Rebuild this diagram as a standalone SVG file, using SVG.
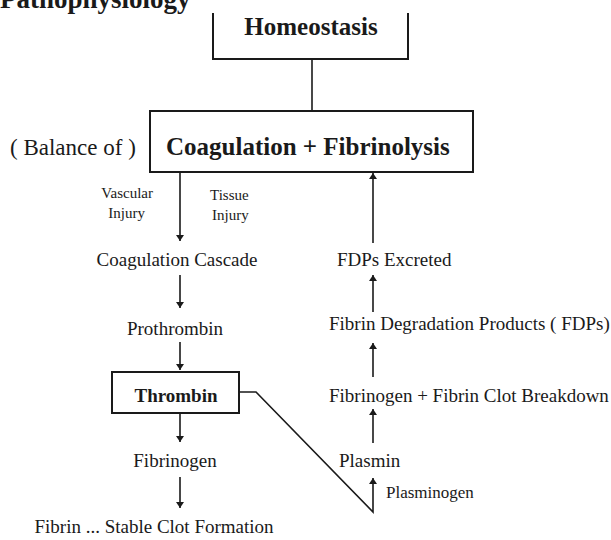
<svg xmlns="http://www.w3.org/2000/svg" width="611" height="540" viewBox="0 0 611 540">
<defs>
<marker id="ah" viewBox="0 0 10 10" refX="10" refY="5" markerWidth="6" markerHeight="8" markerUnits="userSpaceOnUse" orient="auto" preserveAspectRatio="none">
<path d="M0,0 L10,5 L0,10 z" fill="#1a1a1a"/>
</marker>
<style>
text{font-family:"Liberation Serif","Times New Roman",serif;fill:#1a1a1a}
.b{font-weight:bold}
.box{fill:none;stroke:#1a1a1a;stroke-width:2}
.ln{fill:none;stroke:#1a1a1a;stroke-width:1.6}
.ar{fill:none;stroke:#1a1a1a;stroke-width:1.6;marker-end:url(#ah)}
.m{font-size:19px}
.s{font-size:15px}
</style>
</defs>
<rect width="611" height="540" fill="#fff"/>
<text x="0" y="8" class="b" font-size="27">Pathophysiology</text>
<g id="homeostasis">
<path class="box" d="M213,13 V59 H408 V13"/>
<text x="311" y="35" class="b" font-size="25" text-anchor="middle">Homeostasis</text>
</g>
<g id="balance">
<text x="10" y="155" font-size="23">( Balance of )</text>
</g>
<g id="coag-fib">
<rect class="box" x="150" y="111" width="323" height="61"/>
<text x="166" y="155" class="b" font-size="25">Coagulation + Fibrinolysis</text>
</g>
<g id="vascular">
<text x="153" y="198" class="s" text-anchor="end">Vascular</text>
<text x="145" y="218" class="s" text-anchor="end">Injury</text>
</g>
<g id="tissue">
<text x="210" y="200" class="s">Tissue</text>
<text x="212" y="220" class="s">Injury</text>
</g>
<g id="cascade"><text x="177" y="266" class="m" text-anchor="middle">Coagulation Cascade</text></g>
<g id="prothrombin"><text x="175" y="335" class="m" text-anchor="middle">Prothrombin</text></g>
<g id="thrombin">
<rect class="box" x="112" y="372" width="127" height="41"/>
<text x="176" y="402" class="b m" text-anchor="middle">Thrombin</text>
</g>
<g id="fibrinogen"><text x="175" y="467" class="m" text-anchor="middle">Fibrinogen</text></g>
<g id="fibrin"><text x="154" y="533" class="m" text-anchor="middle">Fibrin ... Stable Clot Formation</text></g>
<g id="fdps-excreted"><text x="337" y="266" class="m">FDPs Excreted</text></g>
<g id="fdps"><text x="329" y="330" class="m">Fibrin Degradation Products ( FDPs)</text></g>
<g id="breakdown"><text x="329" y="402" class="m">Fibrinogen + Fibrin Clot Breakdown</text></g>
<g id="plasmin"><text x="339" y="467" class="m">Plasmin</text></g>
<g id="plasminogen"><text x="386" y="498" font-size="17">Plasminogen</text></g>
<g id="connectors">
<line class="ln" x1="312" y1="59" x2="312" y2="111"/>
<line class="ar" x1="180" y1="172" x2="180" y2="241"/>
<line class="ar" x1="180" y1="275" x2="180" y2="308"/>
<line class="ar" x1="180" y1="342" x2="180" y2="370"/>
<line class="ar" x1="180" y1="414" x2="180" y2="442"/>
<line class="ar" x1="180" y1="477" x2="180" y2="508"/>
<path class="ar" d="M239,392 H256 L373,512 V478"/>
<line class="ar" x1="373" y1="443" x2="373" y2="409"/>
<line class="ar" x1="373" y1="377" x2="373" y2="343"/>
<line class="ar" x1="373" y1="312" x2="373" y2="275"/>
<line class="ar" x1="373" y1="243" x2="373" y2="173"/>
</g>
</svg>
